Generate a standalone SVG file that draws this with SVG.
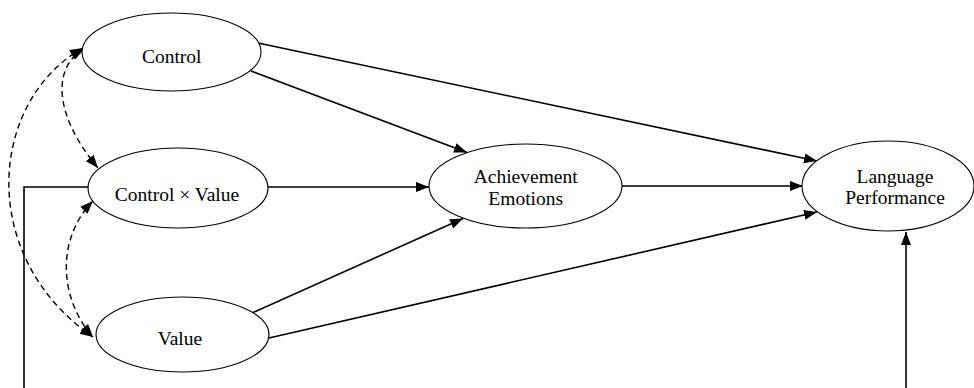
<svg xmlns="http://www.w3.org/2000/svg" width="974" height="388" viewBox="0 0 974 388">
<style>
.node ellipse{fill:#fff;stroke:#000;stroke-width:1.1}
.node text{font-family:'Liberation Serif','DejaVu Serif',serif;font-size:19.5px;fill:#000;text-anchor:middle}
.edge{fill:none;stroke:#000;stroke-width:1.6}
.dash{fill:none;stroke:#000;stroke-width:1.4;stroke-dasharray:6 4}
</style>
<defs>
<marker id="ah" markerUnits="userSpaceOnUse" markerWidth="14" markerHeight="12" refX="13" refY="5" orient="auto">
<path d="M0,0 L13,5 L0,10 Z" fill="#000"/>
</marker>
<marker id="ahs" markerUnits="userSpaceOnUse" markerWidth="14" markerHeight="12" refX="0" refY="5" orient="auto">
<path d="M13,0 L0,5 L13,10 Z" fill="#000"/>
</marker>
</defs>
<rect width="974" height="388" fill="#fff"/>
<g id="connectors">
<line class="edge" x1="251" y1="71" x2="467" y2="152.5" marker-end="url(#ah)"/>
<line class="edge" x1="258" y1="43" x2="817" y2="161" marker-end="url(#ah)"/>
<line class="edge" x1="268" y1="187" x2="429" y2="187" marker-end="url(#ah)"/>
<line class="edge" x1="252" y1="313" x2="463" y2="218.5" marker-end="url(#ah)"/>
<line class="edge" x1="269" y1="338" x2="817" y2="212" marker-end="url(#ah)"/>
<line class="edge" x1="622" y1="186" x2="803" y2="186" marker-end="url(#ah)"/>
<polyline class="edge" points="88,187 24,187 24,390"/>
<line class="edge" x1="906" y1="390" x2="906" y2="232" marker-end="url(#ah)"/>
<path class="dash" d="M83,48 C-10,100 -25,255 93,337" marker-start="url(#ahs)" marker-end="url(#ah)"/>
<path class="dash" d="M84,49 C55,65 50,110 98,168" marker-start="url(#ahs)" marker-end="url(#ah)"/>
<path class="dash" d="M93,201 C55,240 60,300 93,337" marker-start="url(#ahs)" marker-end="url(#ah)"/>
</g>
<g id="control" class="node">
<ellipse cx="171.5" cy="52" rx="89.5" ry="39"/>
<text x="171.7" y="63" font-family="'Liberation Serif', serif">Control</text>
</g>
<g id="control-value" class="node">
<ellipse cx="178" cy="188" rx="90" ry="40"/>
<text x="177" y="201" font-family="'Liberation Serif', serif">Control × Value</text>
</g>
<g id="value" class="node">
<ellipse cx="182.5" cy="334.5" rx="86.5" ry="37.5"/>
<text x="180" y="345" font-family="'Liberation Serif', serif">Value</text>
</g>
<g id="achievement-emotions" class="node">
<ellipse cx="525.5" cy="186" rx="96.5" ry="42"/>
<text x="525.7" y="183" font-family="'Liberation Serif', serif">Achievement</text>
<text x="525.7" y="205" font-family="'Liberation Serif', serif">Emotions</text>
</g>
<g id="language-performance" class="node">
<ellipse cx="888" cy="186" rx="86" ry="45"/>
<text x="895" y="183" font-family="'Liberation Serif', serif">Language</text>
<text x="895" y="204" font-family="'Liberation Serif', serif">Performance</text>
</g>
</svg>
